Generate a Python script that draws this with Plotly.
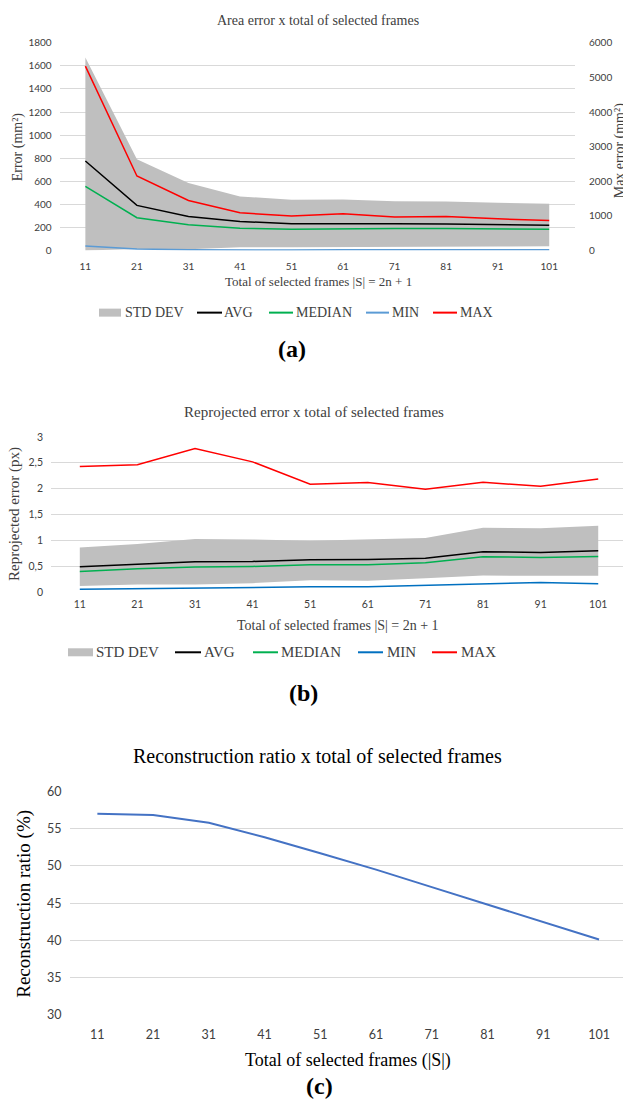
import plotly.graph_objects as go

W, H = 623, 1104

# ---------------- data ----------------
frames = [11, 21, 31, 41, 51, 61, 71, 81, 91, 101]
cats = [str(f) for f in frames]

# (a) area error (mm^2)
area_std_low = [0, 14, 10, 29, 29, 29, 35, 29, 35, 38]
area_std_high = [1673, 790, 585, 469, 440, 443, 428, 425, 414, 405]
area_avg = [776, 391, 295, 252, 232, 234, 232, 229, 223, 220]
area_median = [556, 284, 223, 194, 185, 191, 191, 191, 188, 185]
area_min = [40, 14, 6, 3, 5, 6, 6, 6, 6, 6]
area_max = [5325, 2151, 1447, 1090, 994, 1061, 965, 984, 916, 868]   # right axis
area_yticks = [0, 200, 400, 600, 800, 1000, 1200, 1400, 1600, 1800]
area_y2ticks = [0, 1000, 2000, 3000, 4000, 5000, 6000]

# (b) reprojected error (px)
rep_std_low = [0.116, 0.142, 0.142, 0.168, 0.226, 0.213, 0.265, 0.317, 0.310, 0.310]
rep_std_high = [0.860, 0.925, 1.022, 1.016, 0.990, 1.022, 1.041, 1.242, 1.229, 1.280]
rep_avg = [0.485, 0.537, 0.582, 0.589, 0.621, 0.627, 0.653, 0.776, 0.763, 0.796]
rep_median = [0.395, 0.446, 0.479, 0.492, 0.524, 0.524, 0.563, 0.679, 0.666, 0.686]
rep_min = [0.052, 0.065, 0.071, 0.084, 0.097, 0.097, 0.123, 0.149, 0.181, 0.155]
rep_max = [2.426, 2.460, 2.775, 2.516, 2.083, 2.115, 1.986, 2.120, 2.044, 2.186]
rep_yticks = [0, 0.5, 1, 1.5, 2, 2.5, 3]
rep_yticklabels = ["0", "0,5", "1", "1,5", "2", "2,5", "3"]

# (c) reconstruction ratio (%)
ratio = [57.0, 56.85, 55.8, 53.85, 51.7, 49.5, 47.15, 44.8, 42.5, 40.1]
ratio_yticks = [30, 35, 40, 45, 50, 55, 60]

series_names = ["STD DEV", "AVG", "MEDIAN", "MIN", "MAX"]

# ---------------- styling ----------------
SERIF = "Liberation Serif"
SANS = "Lato"
TXT = "#404040"
GRID = "#d9d9d9"
BAND = "#bfbfbf"
COL_A = [BAND, "#000000", "#00b050", "#5b9bd5", "#ff0000"]
COL_B = [BAND, "#000000", "#00b050", "#0070c0", "#ff0000"]

# vertical calibration of the captured page (measured on a previous render)
Y_OFF, Y_SCALE = 7.96, 0.9845


def px(x):
    return x / W


def py(y):
    return 1 - ((y - Y_OFF) / Y_SCALE) / H


fig = go.Figure()


def band_and_lines(xa, ya, ya_max, low, high, avg, med, mn, mx, cols):
    fig.add_trace(go.Scatter(x=cats, y=low, xaxis=xa, yaxis=ya, mode="lines",
                             line=dict(width=0, color=cols[0]), showlegend=False,
                             hoverinfo="skip"))
    fig.add_trace(go.Scatter(x=cats, y=high, xaxis=xa, yaxis=ya, mode="lines",
                             line=dict(width=0, color=cols[0]), fill="tonexty",
                             fillcolor=cols[0], name=series_names[0], showlegend=False))
    for vals, name, col, yax in [(avg, series_names[1], cols[1], ya),
                                 (med, series_names[2], cols[2], ya),
                                 (mn, series_names[3], cols[3], ya),
                                 (mx, series_names[4], cols[4], ya_max)]:
        fig.add_trace(go.Scatter(x=cats, y=vals, xaxis=xa, yaxis=yax, mode="lines",
                                 line=dict(width=1.5, color=col), name=name,
                                 showlegend=False))


band_and_lines("x", "y", "y2", area_std_low, area_std_high, area_avg, area_median,
               area_min, area_max, COL_A)
band_and_lines("x2", "y3", "y3", rep_std_low, rep_std_high, rep_avg, rep_median,
               rep_min, rep_max, COL_B)

fig.add_trace(go.Scatter(x=cats, y=ratio, xaxis="x3", yaxis="y4", mode="lines",
                         line=dict(width=2, color="#4472c4"), showlegend=False))

tick_a = dict(family=SANS, size=10, color=TXT)
tick_b = dict(family=SANS, size=10.5, color=TXT)
tick_c = dict(family=SANS, size=12.5, color=TXT)

common_x = dict(type="category", showgrid=False, zeroline=False, showline=False, ticks="",
                fixedrange=True)
common_y = dict(showgrid=True, gridcolor=GRID, gridwidth=1, zeroline=False, showline=False,
                ticks="", fixedrange=True)

fig.update_layout(
    width=W, height=H, autosize=False,
    margin=dict(l=0, r=0, t=0, b=0),
    paper_bgcolor="white", plot_bgcolor="white",
    showlegend=False,
    xaxis=dict(common_x, domain=[px(59.6), px(575)], anchor="y", range=[-0.5, 9.5],
               tickfont=tick_a, ticklabelstandoff=8),
    yaxis=dict(common_y, domain=[py(250), py(42.7)], anchor="x", range=[0, 1800],
               tickvals=area_yticks, tickfont=tick_a, ticklabelstandoff=7),
    yaxis2=dict(showgrid=False, zeroline=False, showline=False, ticks="", overlaying="y",
                side="right", anchor="x", range=[0, 6000], tickvals=area_y2ticks,
                tickfont=tick_a, ticklabelstandoff=13, fixedrange=True),
    xaxis2=dict(common_x, domain=[px(51), 1], anchor="y3", range=[-0.5, 9.43],
                tickfont=tick_b, ticklabelstandoff=5),
    yaxis3=dict(common_y, domain=[py(590.7), py(436)], anchor="x2", range=[0, 3],
                tickvals=rep_yticks, ticktext=rep_yticklabels, tickfont=tick_b,
                ticklabelstandoff=7),
    xaxis3=dict(common_x, domain=[px(69.5), 1], anchor="y4", range=[-0.5, 9.43],
                tickfont=tick_c, ticklabelstandoff=11),
    yaxis4=dict(common_y, domain=[py(1012.7), py(790)], anchor="x3", range=[30, 60],
                tickvals=ratio_yticks, tickfont=tick_c, ticklabelstandoff=7),
)


def ann(text, x, y, size, angle=0, color=TXT, bold=False, xanchor="center"):
    if bold:
        text = "<b>" + text + "</b>"
    fig.add_annotation(text=text, x=px(x), y=py(y), xref="paper", yref="paper",
                       xanchor=xanchor, yanchor="middle", showarrow=False, textangle=angle,
                       font=dict(family=SERIF, size=size, color=color))


def legend(y, sym_x, text_x, cols, size):
    # first entry: filled rectangle, others: line samples
    x0, x1 = sym_x[0]
    fig.add_shape(type="rect", xref="paper", yref="paper", x0=px(x0), x1=px(x1),
                  y0=py(y + 4), y1=py(y - 4), fillcolor=cols[0], line=dict(width=0))
    for (a, b), col in zip(sym_x[1:], cols[1:]):
        fig.add_shape(type="line", xref="paper", yref="paper", x0=px(a), x1=px(b),
                      y0=py(y), y1=py(y), line=dict(color=col, width=2))
    for name, tx in zip(series_names, text_x):
        ann(name, tx, y, size, xanchor="left")


# (a) texts
ann("Area error x total of selected frames", 318, 20, 14)
ann("Error (mm²)", 18, 147, 14, angle=-90)
ann("Max error (mm²)", 620, 150, 14, angle=-90)
ann("Total of selected frames |S| = 2n + 1", 318, 281, 13)
legend(312, [(99, 121), (197, 222), (269, 293), (366, 389), (433, 457)],
       [123, 222, 294, 390, 458], COL_A, 14)
ann("(a)", 292, 348, 24, color="#000000", bold=True)
# (b) texts
ann("Reprojected error x total of selected frames", 314, 411, 15)
ann("Reprojected error (px)", 14, 513, 15, angle=-90)
ann("Total of selected frames |S| = 2n + 1", 338, 624, 14)
legend(651, [(68, 93), (175, 201), (253, 278), (358, 383), (432, 457)],
       [94, 202, 279, 385, 459], COL_B, 15)
ann("(b)", 303, 692, 24, color="#000000", bold=True)
# (c) texts
ann("Reconstruction ratio x total of selected frames", 317, 755, 20, color="#000000")
ann("Reconstruction ratio (%)", 24, 902, 19, angle=-90, color="#000000")
ann("Total of selected frames (|S|)", 348, 1058, 18, color="#000000")
ann("(c)", 319, 1084, 24, color="#000000", bold=True)

fig.write_html("out.html", config={"displayModeBar": False},
               post_script="document.body.style.margin='0';document.body.style.overflow='hidden';")
